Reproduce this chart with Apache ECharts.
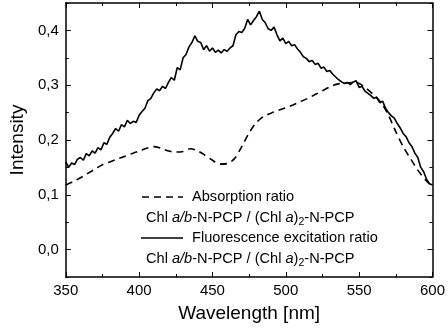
<!DOCTYPE html>
<html>
<head>
<meta charset="utf-8">
<script src="https://cdn.jsdelivr.net/npm/echarts@6/dist/echarts.min.js"></script>
<style>
    html, body { margin: 0; padding: 0; background: #fff; }
    #chart { width: 448px; height: 328px; }
</style>
</head>
<body>
<div id="chart"></div>
<script>
    // wavelength grids (nm)
    var absWavelength = [350, 355, 360, 365, 370, 375, 380, 385, 390, 395, 400, 405, 410, 415, 420, 425, 430, 435, 440, 445,
        450, 455, 460, 465, 470, 475, 480, 485, 490, 495, 500, 505, 510, 515, 520, 525, 530, 535, 540, 545,
        550, 555, 560, 565, 570, 575, 580, 585, 590, 595, 600];
    // absorption ratio (dashed)
    var absRatio = [0.118, 0.124, 0.131, 0.139, 0.147, 0.155, 0.160, 0.165, 0.170, 0.175, 0.180, 0.185, 0.188, 0.185, 0.180, 0.178, 0.179, 0.184, 0.180, 0.172,
        0.163, 0.156, 0.157, 0.166, 0.188, 0.213, 0.232, 0.243, 0.249, 0.254, 0.259, 0.264, 0.270, 0.276, 0.283, 0.290, 0.297, 0.302, 0.304, 0.305,
        0.303, 0.294, 0.282, 0.268, 0.245, 0.215, 0.188, 0.166, 0.145, 0.128, 0.115];

    var fluoWavelength = [350, 352, 354, 356, 358, 360, 362, 364, 366, 368, 370, 372, 374, 376, 378, 380, 382, 384, 386, 388,
        390, 392, 394, 396, 398, 400, 402, 404, 406, 408, 410, 412, 414, 416, 418, 420, 422, 424, 426, 428,
        430, 432, 434, 436, 438, 440, 442, 444, 446, 448, 450, 452, 454, 456, 458, 460, 462, 464, 466, 468,
        470, 472, 474, 476, 478, 480, 482, 484, 486, 488, 490, 492, 494, 496, 498, 500, 502, 504, 506, 508,
        510, 512, 514, 516, 518, 520, 522, 524, 526, 528, 530, 532, 534, 536, 538, 540, 542, 544, 546, 548,
        550, 552, 554, 556, 558, 560, 562, 564, 566, 568, 570, 572, 574, 576, 578, 580, 582, 584, 586, 588,
        590, 592, 594, 596, 598, 600];
    // fluorescence excitation ratio (solid)
    var fluoRatio = [0.160, 0.150, 0.158, 0.155, 0.165, 0.168, 0.163, 0.175, 0.171, 0.180, 0.176, 0.186, 0.182, 0.195, 0.192, 0.205, 0.212, 0.221, 0.216, 0.228,
        0.224, 0.236, 0.230, 0.234, 0.232, 0.245, 0.252, 0.258, 0.272, 0.276, 0.286, 0.293, 0.290, 0.298, 0.294, 0.305, 0.314, 0.309, 0.332, 0.328,
        0.350, 0.356, 0.370, 0.378, 0.390, 0.380, 0.378, 0.365, 0.372, 0.362, 0.368, 0.360, 0.364, 0.359, 0.365, 0.362, 0.368, 0.372, 0.392, 0.398,
        0.396, 0.404, 0.420, 0.410, 0.418, 0.425, 0.435, 0.420, 0.414, 0.403, 0.400, 0.406, 0.392, 0.381, 0.386, 0.376, 0.380, 0.372, 0.374, 0.366,
        0.360, 0.352, 0.349, 0.343, 0.345, 0.338, 0.340, 0.331, 0.333, 0.325, 0.327, 0.320, 0.315, 0.310, 0.306, 0.303, 0.305, 0.301, 0.306, 0.308,
        0.296, 0.298, 0.289, 0.285, 0.281, 0.276, 0.278, 0.268, 0.271, 0.258, 0.250, 0.244, 0.240, 0.230, 0.222, 0.212, 0.206, 0.195, 0.188, 0.176,
        0.168, 0.150, 0.142, 0.128, 0.120, 0.118];

    var yLabelValues = [0, 0.1, 0.2, 0.3, 0.4];

    function pairs(xs, ys) {
        return xs.map(function (x, i) { return [x, ys[i]]; });
    }

    var chart = echarts.init(document.getElementById('chart'));
    var FONT = 'Liberation Sans, Arial, sans-serif';
    var chlRich = {
        n: { fontSize: 14.6, fontFamily: FONT, color: '#000' },
        i: { fontSize: 14.6, fontFamily: FONT, fontStyle: 'italic', color: '#000' },
        s: { fontSize: 10.5, fontFamily: FONT, color: '#000', padding: [9, 0, 0, 0] }
    };
    var chlText = '{n|Chl }{i|a/b}{n|-N-PCP / (Chl }{i|a}{n|)}{s|2}{n|-N-PCP}';

    var baseX = {
        type: 'value', min: 350, max: 600, interval: 50,
        axisLine: { show: true, onZero: false, lineStyle: { color: '#000', width: 1.5 } },
        axisTick: { show: true, inside: true, length: 5, lineStyle: { color: '#000', width: 1 } },
        minorTick: { show: true, splitNumber: 2, length: 3, lineStyle: { color: '#000', width: 1 } },
        splitLine: { show: false }
    };
    var baseY = {
        type: 'value', min: -0.05, max: 0.45, interval: 0.05,
        axisLine: { show: true, onZero: false, lineStyle: { color: '#000', width: 1.5 } },
        axisTick: { show: true, inside: true, length: 3, lineStyle: { color: '#000', width: 1 } },
        splitLine: { show: false }
    };

    var option = {
        backgroundColor: '#fff',
        animation: false,
        grid: { left: 55, right: 14, top: 3, bottom: 47 },
        xAxis: [
            Object.assign({}, baseX, {
                position: 'bottom',
                name: 'Wavelength [nm]', nameLocation: 'middle', nameGap: 27,
                nameTextStyle: { fontSize: 19, fontFamily: FONT, color: '#000' },
                axisLabel: { show: true, margin: 6, fontSize: 15, fontFamily: FONT, color: '#000' }
            }),
            Object.assign({}, baseX, { position: 'top', axisLabel: { show: false } })
        ],
        yAxis: [
            Object.assign({}, baseY, {
                position: 'left',
                name: 'Intensity', nameLocation: 'middle', nameGap: 36,
                nameTextStyle: { fontSize: 19, fontFamily: FONT, color: '#000' },
                axisLabel: {
                    show: true, margin: 7, fontSize: 15, fontFamily: FONT, color: '#000',
                    customValues: yLabelValues,
                    formatter: function (v) { return v.toFixed(1).replace('.', ','); }
                }
            }),
            Object.assign({}, baseY, { position: 'right', axisLabel: { show: false } }),
            // longer ticks at the labelled values
            Object.assign({}, baseY, {
                position: 'left', axisLine: { show: false }, axisLabel: { show: false },
                axisTick: { show: true, inside: true, length: 5, customValues: yLabelValues, lineStyle: { color: '#000', width: 1 } }
            }),
            Object.assign({}, baseY, {
                position: 'right', axisLine: { show: false }, axisLabel: { show: false },
                axisTick: { show: true, inside: true, length: 5, customValues: yLabelValues, lineStyle: { color: '#000', width: 1 } }
            })
        ],
        series: [
            {
                name: 'Absorption ratio',
                type: 'line',
                data: pairs(absWavelength, absRatio),
                smooth: 0.3,
                symbol: 'none',
                lineStyle: { color: '#000', width: 1.6, type: [7, 5] }
            },
            {
                name: 'Fluorescence excitation ratio',
                type: 'line',
                data: pairs(fluoWavelength, fluoRatio),
                symbol: 'none',
                lineStyle: { color: '#000', width: 1.6 }
            }
        ],
        graphic: [
            { type: 'line', shape: { x1: 142, y1: 197, x2: 183, y2: 197 }, style: { stroke: '#000', lineWidth: 1.6, lineDash: [7, 5] } },
            { type: 'text', x: 192, y: 197, style: { text: 'Absorption ratio', fontSize: 14.6, fontFamily: FONT, fill: '#000', verticalAlign: 'middle' } },
            { type: 'text', x: 146, y: 218, style: { text: chlText, rich: chlRich, verticalAlign: 'middle' } },
            { type: 'line', shape: { x1: 141, y1: 238, x2: 183, y2: 238 }, style: { stroke: '#000', lineWidth: 1.3 } },
            { type: 'text', x: 192, y: 238, style: { text: 'Fluorescence excitation ratio', fontSize: 14.6, fontFamily: FONT, fill: '#000', verticalAlign: 'middle' } },
            { type: 'text', x: 146, y: 259, style: { text: chlText, rich: chlRich, verticalAlign: 'middle' } }
        ]
    };
    chart.setOption(option);
</script>
</body>
</html>
